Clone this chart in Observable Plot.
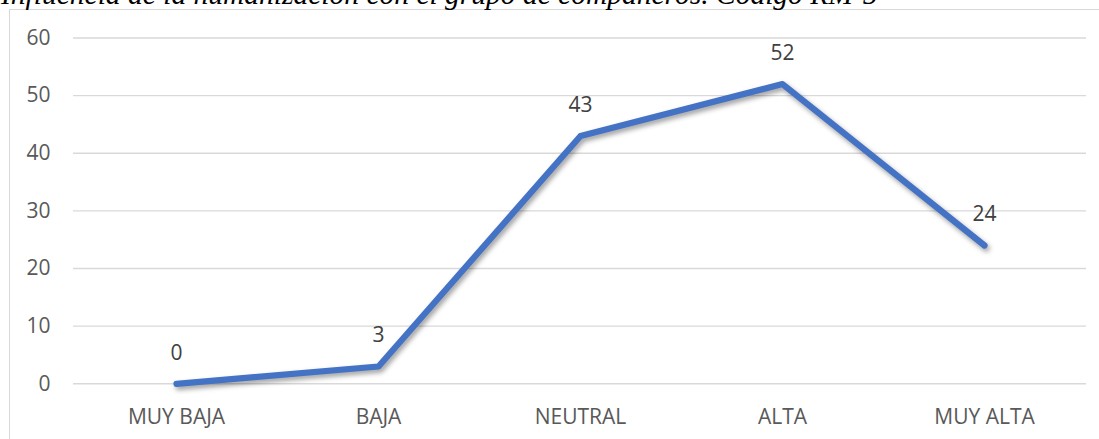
<!DOCTYPE html>
<html>
<head>
<meta charset="utf-8">
<script src="https://cdn.jsdelivr.net/npm/d3@7"></script>
<script src="https://cdn.jsdelivr.net/npm/@observablehq/plot@0.6"></script>
<style>
  html, body { margin: 0; padding: 0; background: #fff; }
  #wrap { position: relative; width: 1099px; height: 439px; overflow: hidden; background: #fff; }
  #title {
    position: absolute; left: 1px; top: -20px; margin: 0;
    font: italic 29.5px "Liberation Serif", "Times New Roman", serif;
    line-height: 1; color: #000; white-space: nowrap; z-index: 2;
  }
  #frame {
    position: absolute; left: 9px; top: 9px; width: 1200px; height: 600px;
    border-left: 1.4px solid #d9d9d9; border-top: 1.4px solid #d9d9d9;
    pointer-events: none; z-index: 1;
  }
  #chart { position: absolute; left: 0; top: 0; }
</style>
</head>
<body>
<div id="wrap">
  <div id="title">Influencia de la humanización con el grupo de compañeros. Código RM-5</div>
  <div id="frame"></div>
  <div id="chart"></div>
</div>
<script>
// Response levels and counts
const categories = ["MUY BAJA", "BAJA", "NEUTRAL", "ALTA", "MUY ALTA"];
const values = [0, 3, 43, 52, 24];
const yTicks = [0, 10, 20, 30, 40, 50, 60];

const data = categories.map((c, i) => ({category: c, value: values[i]}));

const plot = Plot.plot({
  width: 1099,
  height: 439,
  marginLeft: 73,
  marginRight: 13,
  marginTop: 37.5,
  marginBottom: 55.7,
  style: {fontFamily: "'Open Sans', sans-serif", fontSize: "21px", color: "#595959", background: "transparent"},
  x: {type: "point", domain: categories, padding: 0.5},
  y: {domain: [0, 60]},
  marks: [
    Plot.ruleY(yTicks, {stroke: "#d9d9d9", strokeWidth: 1.4}),
    Plot.axisY({ticks: yTicks, tickSize: 0, tickPadding: 23, label: null}),
    Plot.axisX({tickSize: 0, tickPadding: 25, label: null}),
    Plot.line(data, {
      x: "category", y: "value",
      stroke: "#4472C4", strokeWidth: 6.2,
      strokeLinecap: "round", strokeLinejoin: "round"
    }),
    Plot.text(data, {
      x: "category", y: "value", text: d => String(d.value),
      dy: -31, fill: "#404040", textAnchor: "middle", lineAnchor: "middle"
    })
  ]
});

// soft drop shadow under the series line
const lineGroup = plot.querySelector('g[aria-label="line"]');
if (lineGroup) lineGroup.style.filter = "drop-shadow(2px 3px 2.5px rgba(0,0,0,0.38))";

document.getElementById("chart").appendChild(plot);
</script>
</body>
</html>
